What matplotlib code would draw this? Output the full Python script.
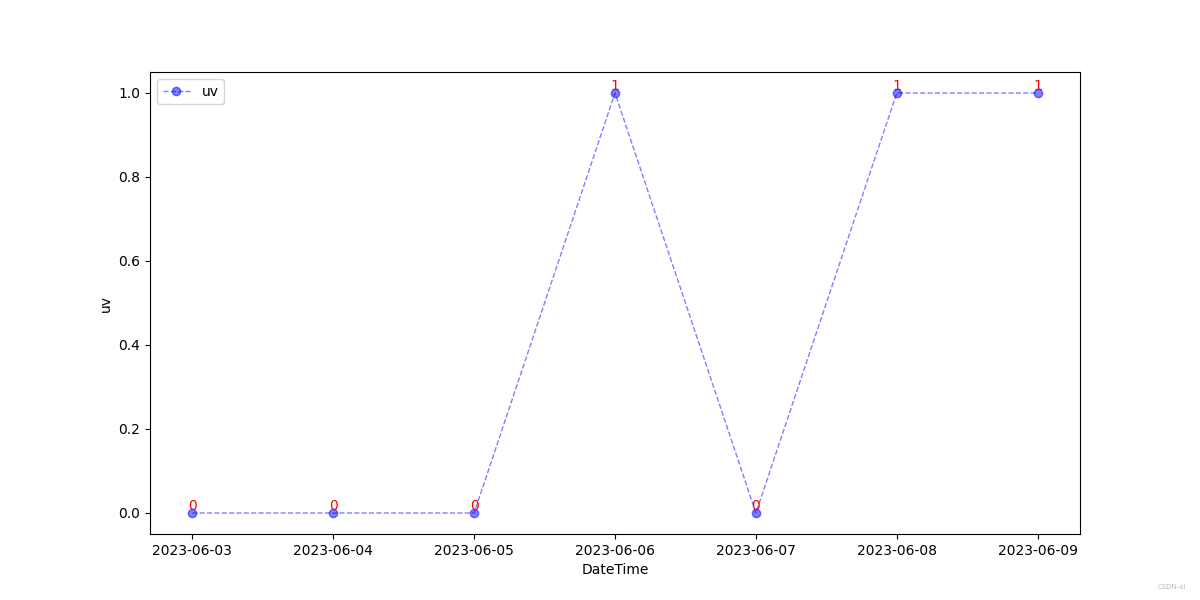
import matplotlib
matplotlib.use('Agg')
import matplotlib.pyplot as plt

dates = ['2023-06-03', '2023-06-04', '2023-06-05', '2023-06-06',
         '2023-06-07', '2023-06-08', '2023-06-09']
uv = [0, 0, 0, 1, 0, 1, 1]


def main():
    fig, ax = plt.subplots(figsize=(12, 6), dpi=100)
    ax.plot(dates, uv, 'bo--', alpha=0.5, linewidth=1, label='uv')
    for d, v in zip(dates, uv):
        ax.text(d, v, str(v), color='red', ha='center', va='bottom', fontsize=10)
    ax.set_xlabel('DateTime')
    ax.set_ylabel('uv')
    ax.legend(loc='upper left')
    fig.text(0.988, 0.018, 'CSDN-ai', color='#bbbbbb', fontsize=5, ha='right')
    fig.savefig('out.png')


if __name__ == "__main__":
    main()
